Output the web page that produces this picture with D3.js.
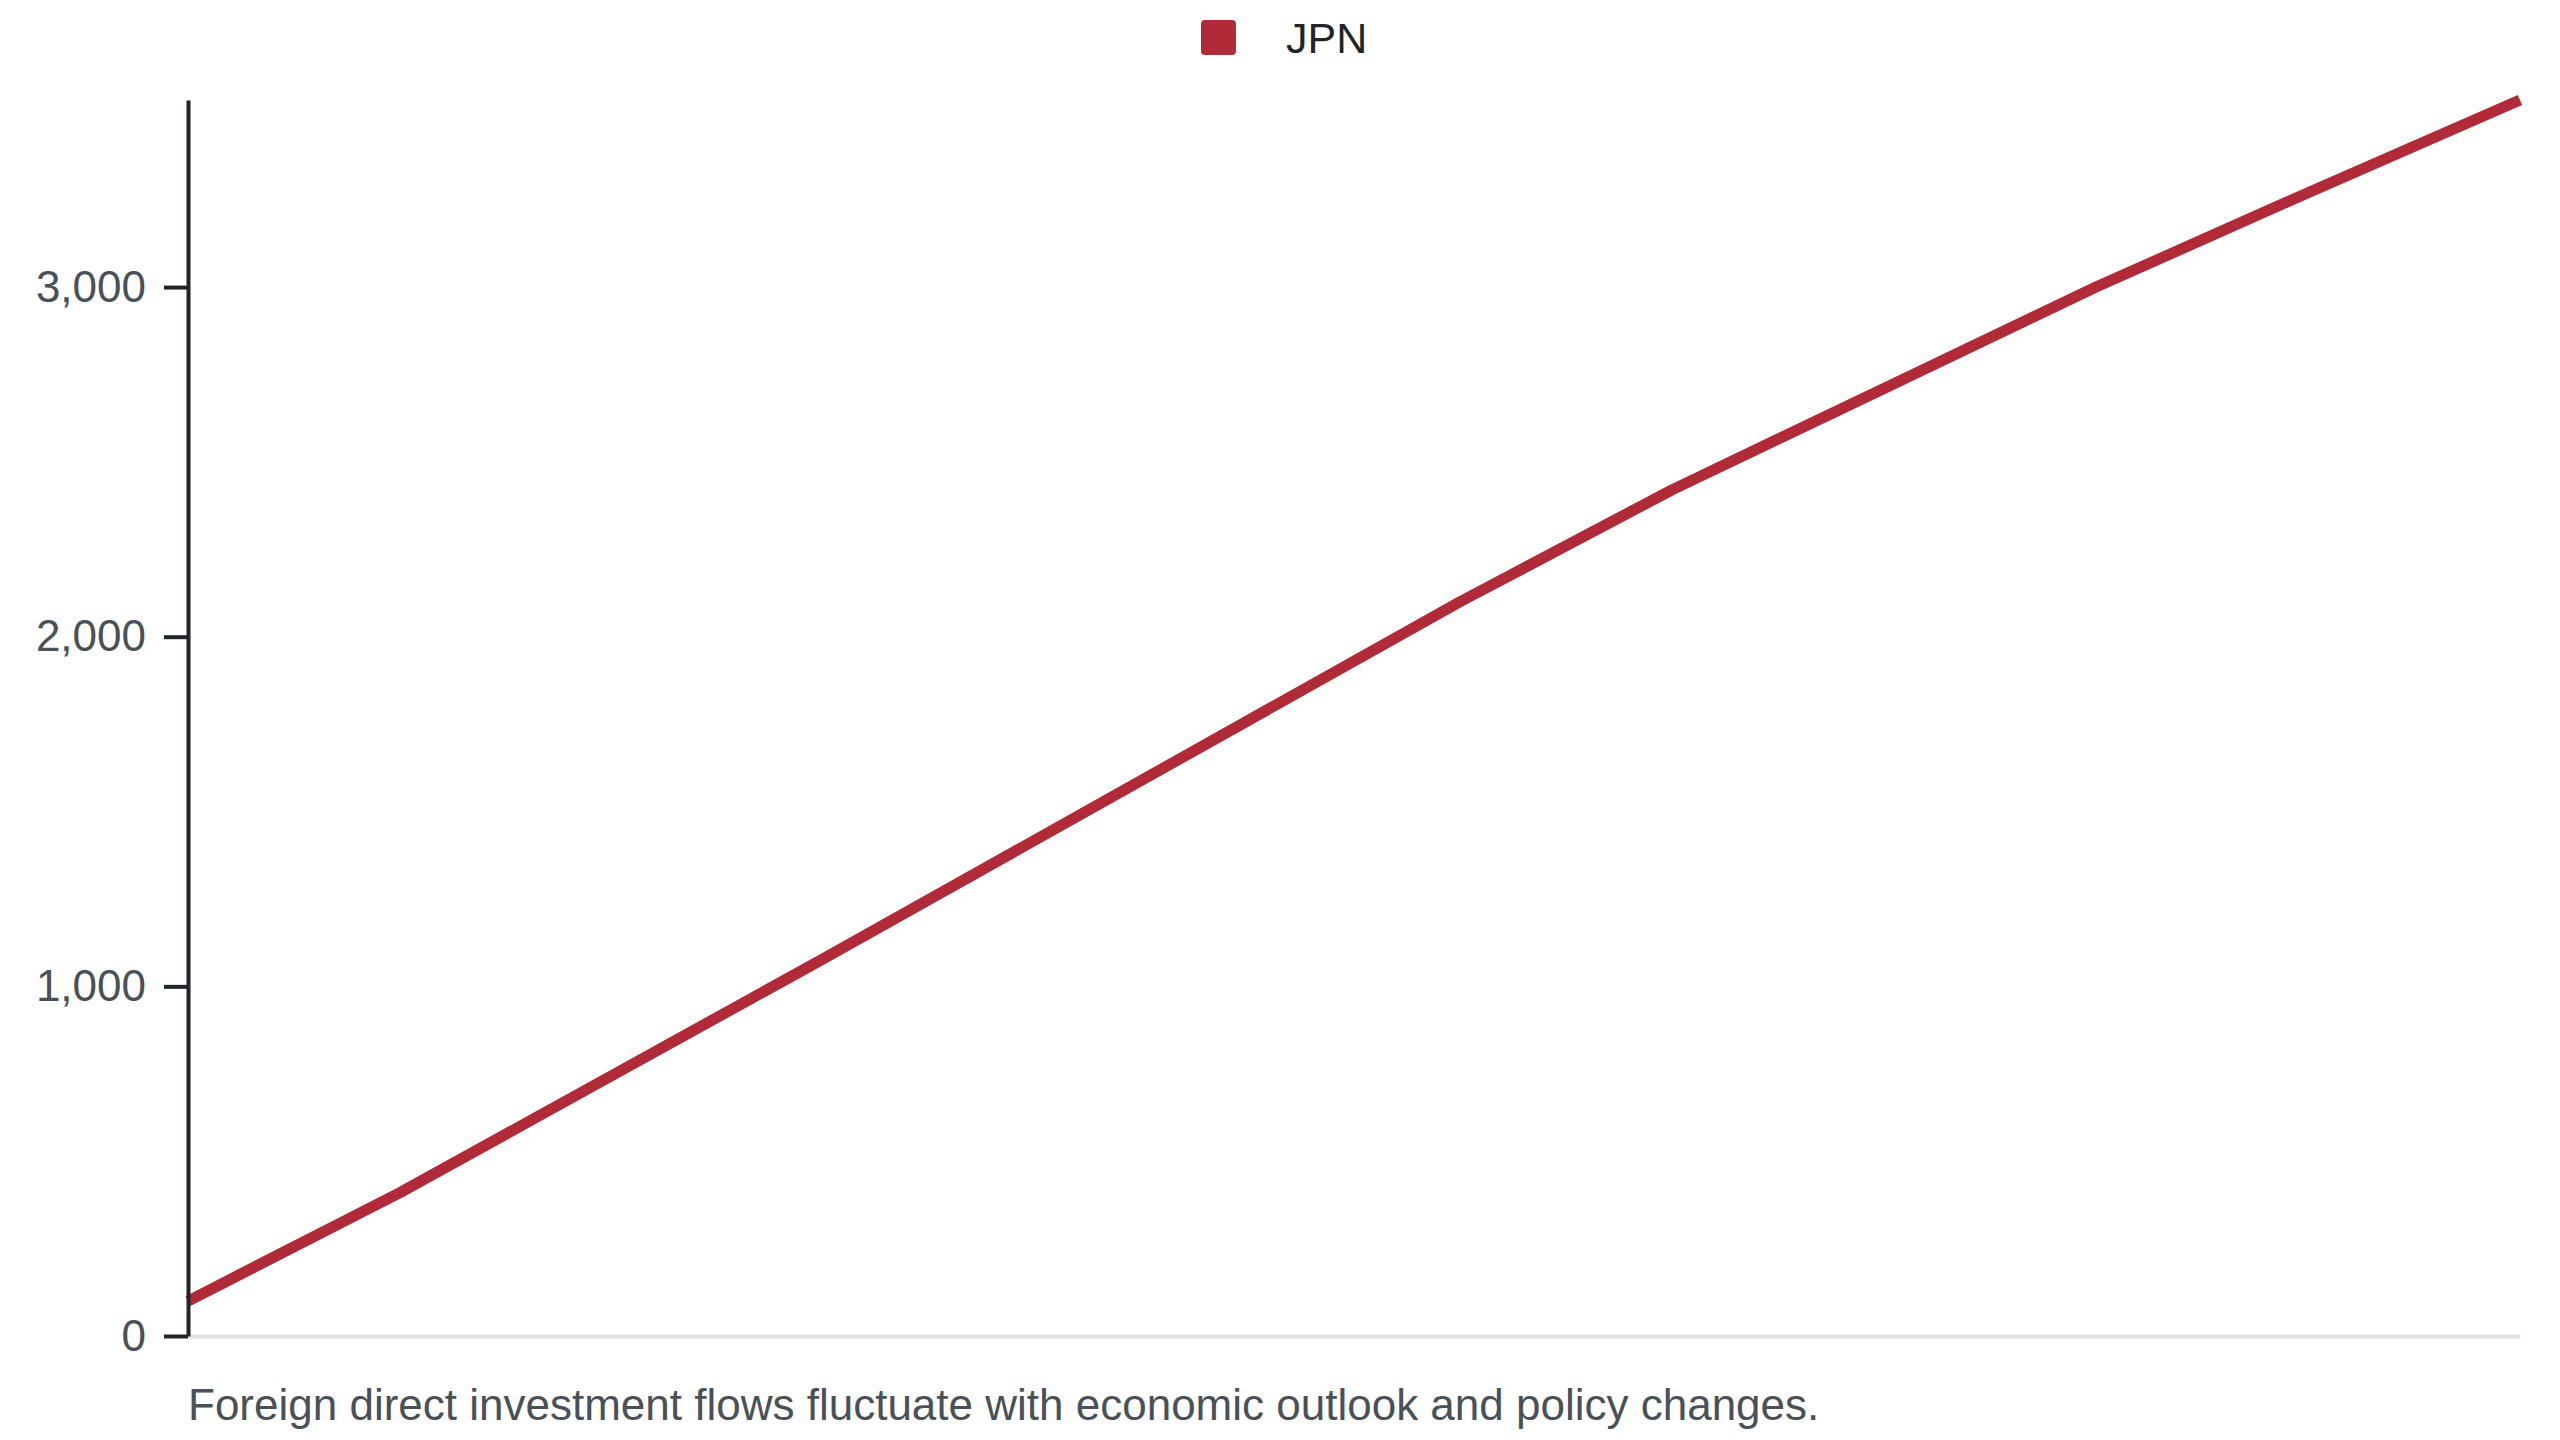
<!DOCTYPE html>
<html>
<head>
<meta charset="utf-8">
<script src="https://cdn.jsdelivr.net/npm/d3@7"></script>
<style>
  html, body { margin: 0; padding: 0; background: #fff; }
  svg { display: block; font-family: "Liberation Sans", Arial, Helvetica, sans-serif; }
</style>
</head>
<body>
<svg id="chart" width="2560" height="1440"></svg>
<script>
// 系列名・カテゴリ・値
const seriesName = "JPN";
const categories = ["2013", "2014", "2015", "2016", "2017", "2018",
                    "2019", "2020", "2021", "2022", "2023", "2024"];
const values = [100, 410, 745, 1080, 1420, 1760, 2100, 2420, 2710, 3000, 3270, 3535];
const yTicks = [0, 1000, 2000, 3000];
const caption = "Foreign direct investment flows fluctuate with economic outlook and policy changes.";

const lineColor = "#b02a37";

let svg = d3.select("#chart");
let margin = {top: 100, right: 40, bottom: 104, left: 188};
let width = 2560, height = 1440;

// x 方向のスケール
let x = d3.scalePoint()
  .domain(categories)
  .range([margin.left, width - margin.right]);

// y 方向のスケール ( 最大値までそのまま )
let y = d3.scaleLinear()
  .domain([0, d3.max(values)])
  .range([height - margin.bottom, margin.top]);

// x 軸 ( ラベルなし、薄いベースラインのみ )
let xAxis = svg.append("g")
  .attr("class", "x-axis")
  .attr("transform", `translate(0,${height - margin.bottom})`)
  .call(d3.axisBottom(x).tickSize(0).tickFormat(""));
xAxis.select("path.domain")
  .attr("stroke", "#dee2e6")
  .attr("stroke-width", 4);

// 折れ線
let line = d3.line()
  .x((d, i) => x(categories[i]))
  .y(d => y(d));

svg.append("path")
  .datum(values)
  .attr("d", line)
  .attr("fill", "none")
  .attr("stroke", lineColor)
  .attr("stroke-width", 11)
  .attr("stroke-linejoin", "round");

// y 軸
let yAxis = svg.append("g")
  .attr("class", "y-axis")
  .attr("transform", `translate(${margin.left},0)`)
  .call(
    d3.axisLeft(y)
      .tickValues(yTicks)
      .tickSize(24)
      .tickPadding(18)
      .tickSizeOuter(0)
      .tickFormat(d3.format(","))
  );
yAxis.select("path.domain")
  .attr("stroke", "#212529")
  .attr("stroke-width", 4);
yAxis.selectAll(".tick line")
  .attr("stroke", "#212529")
  .attr("stroke-width", 4);
yAxis.selectAll(".tick text")
  .attr("fill", "#495057")
  .attr("font-size", 44)
  .attr("font-family", "'Liberation Sans', Arial, sans-serif");

// 凡例
let legend = svg.append("g").attr("class", "legend");
legend.append("rect")
  .attr("x", 1201)
  .attr("y", 20)
  .attr("width", 35)
  .attr("height", 35)
  .attr("rx", 4)
  .attr("fill", lineColor);
legend.append("text")
  .attr("x", 1286)
  .attr("y", 37.5)
  .attr("dy", "0.35em")
  .attr("font-size", 43)
  .attr("fill", "#212529")
  .text(seriesName);

// 注記
svg.append("text")
  .attr("x", margin.left)
  .attr("y", 1420)
  .attr("font-size", 44)
  .attr("fill", "#495057")
  .text(caption);
</script>
</body>
</html>
